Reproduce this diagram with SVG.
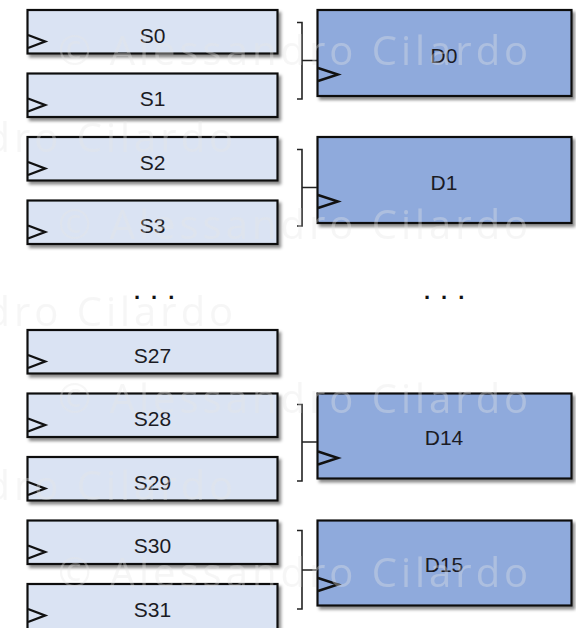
<svg xmlns="http://www.w3.org/2000/svg" width="576" height="628" viewBox="0 0 576 628">
<defs>
<filter id="sh" x="-10%" y="-20%" width="125%" height="150%">
<feDropShadow dx="2.5" dy="3" stdDeviation="1.6" flood-color="#000" flood-opacity="0.45"/>
</filter>
<style>
.s{fill:#dae3f3;stroke:#111;stroke-width:2.2;filter:url(#sh)}
.d{fill:#8faadc;stroke:#111;stroke-width:2.2;filter:url(#sh)}
.clk{fill:none;stroke:#111;stroke-width:2.4;stroke-linejoin:miter}
.br{fill:none;stroke:#222;stroke-width:1.6}
.lbl{font-family:"Liberation Sans",Arial,sans-serif;font-size:21px;fill:#1b1b24;text-anchor:middle}
.dots{font-family:"Liberation Sans",Arial,sans-serif;font-size:22px;font-weight:bold;fill:#111;letter-spacing:11px}
.wm{font-family:"Open Sans","Liberation Sans",sans-serif;font-size:40px;fill:#e6e6e6;opacity:0.35;letter-spacing:4px}
</style>
</defs>
<rect width="576" height="628" fill="#fff"/>

<g id="S0"><rect class="s" x="27.5" y="10" width="250" height="43.5"/><polyline class="clk" points="28,35 45,41.5 28,48"/><text class="lbl" x="152.5" y="42.5">S0</text></g>
<g id="S1"><rect class="s" x="27.5" y="73.5" width="250" height="43.5"/><polyline class="clk" points="28,98.5 45,105 28,111.5"/><text class="lbl" x="152.5" y="106">S1</text></g>
<g id="S2"><rect class="s" x="27.5" y="137" width="250" height="43.5"/><polyline class="clk" points="28,162 45,168.5 28,175"/><text class="lbl" x="152.5" y="169.5">S2</text></g>
<g id="S3"><rect class="s" x="27.5" y="200.5" width="250" height="43.5"/><polyline class="clk" points="28,225.5 45,232 28,238.5"/><text class="lbl" x="152.5" y="233">S3</text></g>
<g id="S27"><rect class="s" x="27.5" y="330" width="250" height="43.5"/><polyline class="clk" points="28,355 45,361.5 28,368"/><text class="lbl" x="152.5" y="362.5">S27</text></g>
<g id="S28"><rect class="s" x="27.5" y="393.5" width="250" height="43.5"/><polyline class="clk" points="28,418.5 45,425 28,431.5"/><text class="lbl" x="152.5" y="426">S28</text></g>
<g id="S29"><rect class="s" x="27.5" y="457" width="250" height="43.5"/><polyline class="clk" points="28,482 45,488.5 28,495"/><text class="lbl" x="152.5" y="489.5">S29</text></g>
<g id="S30"><rect class="s" x="27.5" y="520.5" width="250" height="43.5"/><polyline class="clk" points="28,545.5 45,552 28,558.5"/><text class="lbl" x="152.5" y="553">S30</text></g>
<g id="S31"><rect class="s" x="27.5" y="584" width="250" height="46"/><polyline class="clk" points="28,609 45,615.5 28,622"/><text class="lbl" x="152.5" y="616.5">S31</text></g>

<g id="D0"><rect class="d" x="317.5" y="10" width="254" height="86"/><polyline class="clk" points="318,68 338,74.5 318,81"/><text class="lbl" x="444" y="62.5">D0</text></g>
<g id="D1"><rect class="d" x="317.5" y="137" width="254" height="86"/><polyline class="clk" points="318,195 338,201.5 318,208"/><text class="lbl" x="444" y="189.5">D1</text></g>
<g id="D14"><rect class="d" x="317.5" y="393.5" width="254" height="85"/><polyline class="clk" points="318,451.5 338,458 318,464.5"/><text class="lbl" x="444" y="445">D14</text></g>
<g id="D15"><rect class="d" x="317.5" y="520.5" width="254" height="85"/><polyline class="clk" points="318,578 338,584.5 318,591"/><text class="lbl" x="444" y="572">D15</text></g>

<g id="connectors">
<path class="br" d="M297,22.5 H302 V99 H297 M302,60.5 H317"/>
<path class="br" d="M297,149.5 H302 V226 H297 M302,187.5 H317"/>
<path class="br" d="M297,404.5 H302 V481 H297 M302,442 H317"/>
<path class="br" d="M297,530.5 H302 V609 H297 M302,570 H317"/>
</g>

<text class="dots" x="134" y="299">...</text>
<text class="dots" x="424" y="299">...</text>

<g id="watermark">
<text class="wm" x="58" y="65">© Alessandro Cilardo</text>
<text class="wm" x="-237" y="152">© Alessandro Cilardo</text>
<text class="wm" x="58" y="239">© Alessandro Cilardo</text>
<text class="wm" x="-237" y="326">© Alessandro Cilardo</text>
<text class="wm" x="58" y="413">© Alessandro Cilardo</text>
<text class="wm" x="-237" y="500">© Alessandro Cilardo</text>
<text class="wm" x="58" y="587">© Alessandro Cilardo</text>
</g>
</svg>
